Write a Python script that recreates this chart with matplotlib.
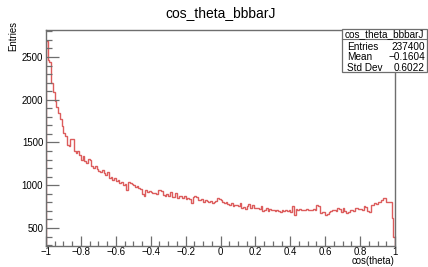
import numpy as np
import matplotlib
matplotlib.use("Agg")
import matplotlib.pyplot as plt
from matplotlib.patches import Rectangle
from matplotlib.lines import Line2D
from matplotlib.ticker import MultipleLocator

# --- Data (200 bins, cos(theta) from -1 to 1) ---
x_lo, x_hi, n_bins = -1.0, 1.0, 200
counts = [
    2690, 2460, 2440, 2200, 2090, 1990, 1910, 1840, 1780, 1690,
    1610, 1580, 1470, 1460, 1540, 1545, 1400, 1380, 1395, 1350,
    1300, 1340, 1280, 1260, 1310, 1290, 1230, 1200, 1220, 1190,
    1170, 1150, 1180, 1140, 1120, 1150, 1080, 1100, 1060, 1090,
    1050, 1060, 1030, 1040, 1000, 1020, 950, 1040, 1030, 1010,
    1000, 980, 990, 970, 960, 900, 880, 940, 920, 930,
    920, 910, 915, 900, 940, 945, 935, 890, 880, 900,
    870, 920, 860, 865, 910, 850, 880, 870, 850, 880,
    845, 850, 835, 795, 860, 870, 860, 830, 825, 840,
    810, 830, 820, 800, 815, 790, 800, 820, 850, 845,
    830, 810, 790, 800, 780, 770, 790, 760, 775, 770,
    760, 790, 740, 750, 720, 760, 780, 730, 770, 740,
    735, 740, 720, 755, 700, 710, 740, 695, 720, 715,
    705, 700, 715, 700, 690, 705, 695, 710, 700, 705,
    690, 760, 655, 720, 715, 720, 715, 710, 715, 720,
    715, 710, 705, 720, 715, 770, 760, 680, 690, 685,
    650, 660, 690, 700, 705, 710, 700, 735, 720, 690,
    735, 700, 675, 690, 705, 710, 700, 735, 740, 720,
    720, 705, 760, 750, 700, 690, 770, 765, 790, 785,
    800, 810, 825, 855, 850, 810, 805, 800, 620, 395,
]
stat_labels = ["Entries", "Mean", "Std Dev"]
stat_values = ["237400", "\u22120.1604", "0.6022"]
hist_name = "cos_theta_bbbarJ"

plt.rcParams["font.family"] = ["Liberation Sans", "DejaVu Sans"]
frame_col = "#6e6e6e"
fs = 6.9

W, H = 428, 267
fig = plt.figure(figsize=(4.28, 2.67), dpi=100)
ax = fig.add_axes([46 / W, 1 - 246 / H, 349 / W, 216 / H])

edges = np.linspace(x_lo, x_hi, n_bins + 1)
ax.stairs(counts, edges, color="#dc5c5c", linewidth=1.0)

ax.set_xlim(-1, 1)
ax.set_ylim(290, 2815)

# --- ROOT-like axes ---
for side in ["top", "right", "left", "bottom"]:
    ax.spines[side].set_color(frame_col)
    ax.spines[side].set_linewidth(1.0)
ax.xaxis.set_major_locator(MultipleLocator(0.2))
ax.xaxis.set_minor_locator(MultipleLocator(0.05))
ax.yaxis.set_major_locator(MultipleLocator(500))
ax.yaxis.set_minor_locator(MultipleLocator(100))
ax.tick_params(which="both", direction="in", color=frame_col, labelsize=fs, width=0.9)
ax.tick_params(axis="x", which="major", length=7, pad=1)
ax.tick_params(axis="x", which="minor", length=3.5)
ax.tick_params(axis="y", which="major", length=9, pad=2)
ax.tick_params(axis="y", which="minor", length=4.5)
ax.set_xticks([-1, -0.8, -0.6, -0.4, -0.2, 0, 0.2, 0.4, 0.6, 0.8, 1])
ax.set_xticklabels(["\u22121", "\u22120.8", "\u22120.6", "\u22120.4", "\u22120.2",
                    "0", "0.2", "0.4", "0.6", "0.8", "1"])

# axis titles (ROOT puts them at the far ends of the axes)
fig.text(395 / W, 0.002, "cos(theta)", ha="right", va="bottom", fontsize=fs)
fig.text(13 / W, 1 - 21 / H, "Entries", ha="center", va="top", rotation=90, fontsize=fs)

fig.text(0.515, 1 - 13 / H, hist_name, ha="center", va="center", fontsize=10)

# --- stats box ---
bx0, bx1 = 342 / W, 427 / W
by_top, by_bot = 1 - 29 / H, 1 - 72 / H
fig.patches.append(Rectangle((bx0, by_bot), bx1 - bx0, by_top - by_bot,
                             transform=fig.transFigure, facecolor="white",
                             edgecolor=frame_col, linewidth=0.9, zorder=5))
fig.lines.append(Line2D([bx0, bx1], [1 - 39 / H] * 2, transform=fig.transFigure,
                        color=frame_col, linewidth=0.8, zorder=6))
fig.text((bx0 + bx1) / 2, 1 - 34 / H, hist_name, ha="center", va="center",
         fontsize=7.2, zorder=7)
for i, (lab, val) in enumerate(zip(stat_labels, stat_values)):
    yy = 1 - (47.5 + 10 * i) / H
    fig.text(347 / W, yy, lab, ha="left", va="center", fontsize=7.2, zorder=7)
    fig.text(425 / W, yy, val, ha="right", va="center", fontsize=7.2, zorder=7)

fig.savefig("out.png", dpi=100)
